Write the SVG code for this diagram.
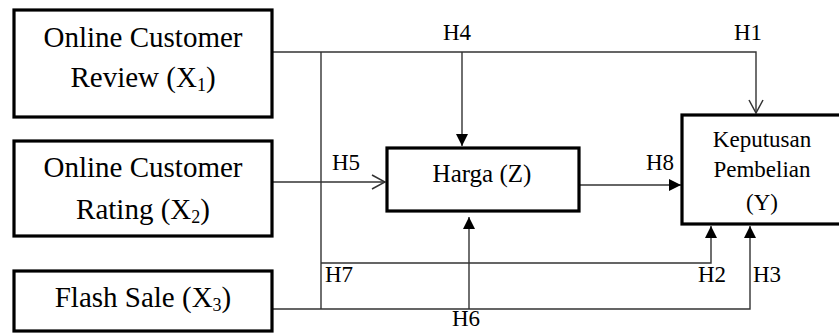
<svg xmlns="http://www.w3.org/2000/svg" width="839" height="333" viewBox="0 0 839 333">
<style>
.box{fill:#fff;stroke:#000;stroke-width:3.2}
.big{font-size:29px;fill:#000;text-anchor:middle}
.mid{font-size:25px;fill:#000;text-anchor:middle}
.sm{font-size:23px;fill:#000;text-anchor:middle}
.lbl{font-size:23px;fill:#000}
.ln{fill:none;stroke:#333;stroke-width:1.4}
</style>
<defs>
<marker id="fa" viewBox="0 0 12 12" refX="12" refY="6" markerWidth="12" markerHeight="12" markerUnits="userSpaceOnUse" orient="auto">
<path d="M0,0 L12,6 L0,12 z" fill="#000"/>
</marker>
<marker id="oa" viewBox="0 0 15 16" refX="14" refY="8" markerWidth="15" markerHeight="16" markerUnits="userSpaceOnUse" orient="auto">
<path d="M1,1 L14,8 L1,15" fill="none" stroke="#333" stroke-width="1.5"/>
</marker>
</defs>
<g font-family="'Liberation Serif', serif">
<g id="connectors">
<path class="ln" d="M272,52 H756 V113" marker-end="url(#oa)"/>
<path class="ln" d="M321,52 V309"/>
<path class="ln" d="M462,52 V146" marker-end="url(#fa)"/>
<path class="ln" d="M272,182 H385" marker-end="url(#oa)"/>
<path class="ln" d="M579,185 H681" marker-end="url(#fa)"/>
<path class="ln" d="M321,263 H711 V226" marker-end="url(#fa)"/>
<path class="ln" d="M272,309 H750 V226" marker-end="url(#fa)"/>
<path class="ln" d="M469,309 V217" marker-end="url(#fa)"/>
<text class="lbl" x="443" y="40">H4</text>
<text class="lbl" x="734" y="40">H1</text>
<text class="lbl" x="332" y="170">H5</text>
<text class="lbl" x="646" y="170">H8</text>
<text class="lbl" x="325" y="282">H7</text>
<text class="lbl" x="698" y="282">H2</text>
<text class="lbl" x="753" y="282">H3</text>
<text class="lbl" x="452" y="326">H6</text>
</g>
<g id="x1">
<rect class="box" x="14" y="10" width="258" height="107"/>
<text class="big" x="143" y="47">Online Customer</text>
<text class="big" x="143" y="87">Review (X<tspan font-size="18" dy="4">1</tspan><tspan dy="-4">)</tspan></text>
</g>
<g id="x2">
<rect class="box" x="14" y="141" width="258" height="95"/>
<text class="big" x="143" y="177">Online Customer</text>
<text class="big" x="143" y="219">Rating (X<tspan font-size="18" dy="4">2</tspan><tspan dy="-4">)</tspan></text>
</g>
<g id="x3">
<rect class="box" x="14" y="271" width="258" height="60"/>
<text class="big" x="143" y="307">Flash Sale (X<tspan font-size="18" dy="4">3</tspan><tspan dy="-4">)</tspan></text>
</g>
<g id="z">
<rect class="box" x="387" y="148" width="192" height="63"/>
<text class="mid" x="482" y="182">Harga (Z)</text>
</g>
<g id="y">
<rect class="box" x="682" y="115" width="200" height="109"/>
<text class="sm" x="762" y="147">Keputusan</text>
<text class="sm" x="762" y="177">Pembelian</text>
<text class="sm" x="762" y="210">(Y)</text>
</g>
</g>
</svg>
